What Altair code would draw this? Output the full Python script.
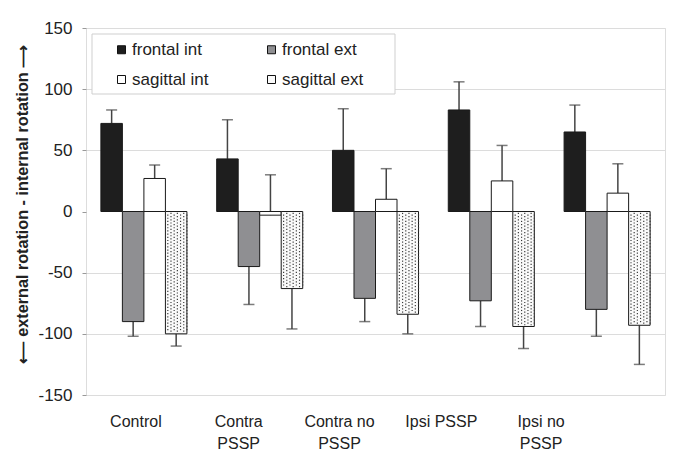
import json
import altair as alt
import pandas as pd

categories = ["Control", "Contra\nPSSP", "Contra no\nPSSP", "Ipsi PSSP", "Ipsi no\nPSSP"]
series = ["frontal int", "frontal ext", "sagittal int", "sagittal ext"]

frontal_int = [72, 43, 50, 83, 65]
frontal_int_err = [83, 75, 84, 106, 87]
frontal_ext = [-90, -45, -71, -73, -80]
frontal_ext_err = [-102, -76, -90, -94, -102]
sagittal_int = [27, -3, 10, 25, 15]
sagittal_int_err = [38, 30, 35, 54, 39]
sagittal_ext = [-100, -63, -84, -94, -93]
sagittal_ext_err = [-110, -96, -100, -112, -125]

y_ticks = [-150, -100, -50, 0, 50, 100, 150]
fills = ["#1e1e1e", "#8f8f92", "#ffffff", "#fafafa"]
# horizontal shift of each category label (px), as in the original layout
label_shift = [-8, -21, -36, -50, -66]

values = [frontal_int, frontal_ext, sagittal_int, sagittal_ext]
errs = [frontal_int_err, frontal_ext_err, sagittal_int_err, sagittal_ext_err]
rows = []
for s, vals, es in zip(series, values, errs):
    for c, v, e in zip(categories, vals, es):
        rows.append({"category": c, "series": s, "value": v, "err": e})
df = pd.DataFrame(rows)

FONT = "Liberation Sans"

label_offset = {
    "condition": [{"test": f"datum.value === {json.dumps(c)}", "value": sh}
                  for c, sh in zip(categories, label_shift)],
    "value": 0,
}

x_enc = alt.X("category:N", sort=categories,
              scale=alt.Scale(paddingInner=0.257, paddingOuter=0.1285),
              axis=alt.Axis(title=None, labelExpr="split(datum.label, '\\n')",
                            ticks=False, domain=False, labelAngle=0, labelAlign="center",
                            bandPosition=0.5, labelOffset=label_offset,
                            labelPadding=26, labelFontSize=16, labelLineHeight=22.5,
                            labelColor="#222", labelFont=FONT))
xoff = alt.XOffset("series:N", sort=series,
                   scale=alt.Scale(domain=series, paddingInner=0, paddingOuter=0))
y_scale = alt.Scale(domain=[-150, 150], nice=False, zero=False)

base = alt.Chart(df)

bars = base.mark_bar(stroke="#1a1a1a", strokeWidth=1).encode(
    x=x_enc,
    xOffset=xoff,
    y=alt.Y("value:Q", scale=y_scale,
            axis=alt.Axis(values=y_ticks,
                          title="\u27f5 external rotation - internal rotation \u27f6",
                          labelExpr="'' + datum.value",
                          titleFont=FONT, titleFontSize=16.2, titleFontWeight="bold",
                          titleColor="#222", titleX=-64, titleY=176, titleBaseline="middle",
                          titleAngle=270,
                          labelFont=FONT, labelFontSize=17, labelColor="#222",
                          labelPadding=10, tickSize=4, tickColor="#999",
                          domain=False, grid=True, gridColor="#dcdcdc",
                          gridOpacity={"condition": {"test": "datum.value === 0", "value": 0}, "value": 1})),
    y2=alt.Y2(datum=0),
    fill=alt.Fill("series:N", sort=series,
                  scale=alt.Scale(domain=series, range=fills),
                  legend=alt.Legend(orient="none", legendX=27, legendY=13, columns=2,
                                    direction="horizontal",
                                    title=None, symbolType="square", symbolSize=64,
                                    symbolStrokeColor="#111", symbolStrokeWidth=1,
                                    labelFont=FONT, labelFontSize=17, labelColor="#222",
                                    labelOffset=2, rowPadding=12, columnPadding=54,
                                    padding=0)),
)

# dotted texture of the "sagittal ext" bars: 28 thin slots per category band,
# the last 7 of which lie inside the sagittal ext bar
n_slots = 28
dots = (
    base.transform_filter(alt.datum.series == "sagittal ext")
    .transform_calculate(col="sequence(21, 28)")
    .transform_flatten(["col"])
    .transform_calculate(dy="sequence(datum.col % 2 == 0 ? -1.6 : -2.9, datum.value + 1.2, -2.6)")
    .transform_flatten(["dy"])
    .mark_square(size=1.4, color="#3a3a3a", opacity=1)
    .encode(x=alt.X("category:N", sort=categories),
            xOffset=alt.XOffset("col:O", scale=alt.Scale(domain=list(range(n_slots)),
                                                         paddingInner=0, paddingOuter=0)),
            y=alt.Y("dy:Q", scale=y_scale))
)

err_rule = base.mark_rule(color="#444", strokeWidth=1.5).encode(
    x=alt.X("category:N", sort=categories), xOffset=xoff,
    y="value:Q", y2="err:Q")
err_cap = base.mark_tick(color="#444", thickness=1.5, size=11).encode(
    x=alt.X("category:N", sort=categories), xOffset=xoff,
    y="err:Q")

legend_box = alt.Chart(pd.DataFrame({"a": [0]})).mark_rect(
    fill="white", stroke="#cfcfcf", strokeWidth=1).encode(
    x=alt.value(6), x2=alt.value(309), y=alt.value(6), y2=alt.value(66))

chart = alt.layer(err_rule, err_cap, bars, dots, legend_box).resolve_scale(
    xOffset="independent"
).properties(
    width=579, height=367,
    autosize=alt.AutoSizeParams(type="none"),
    padding={"left": 78, "top": 20, "right": 12, "bottom": 63},
).configure_view(stroke="#a8a8a8", strokeWidth=2).configure(background="white")

chart.save("out.html", embed_options={"renderer": "svg", "actions": False})
